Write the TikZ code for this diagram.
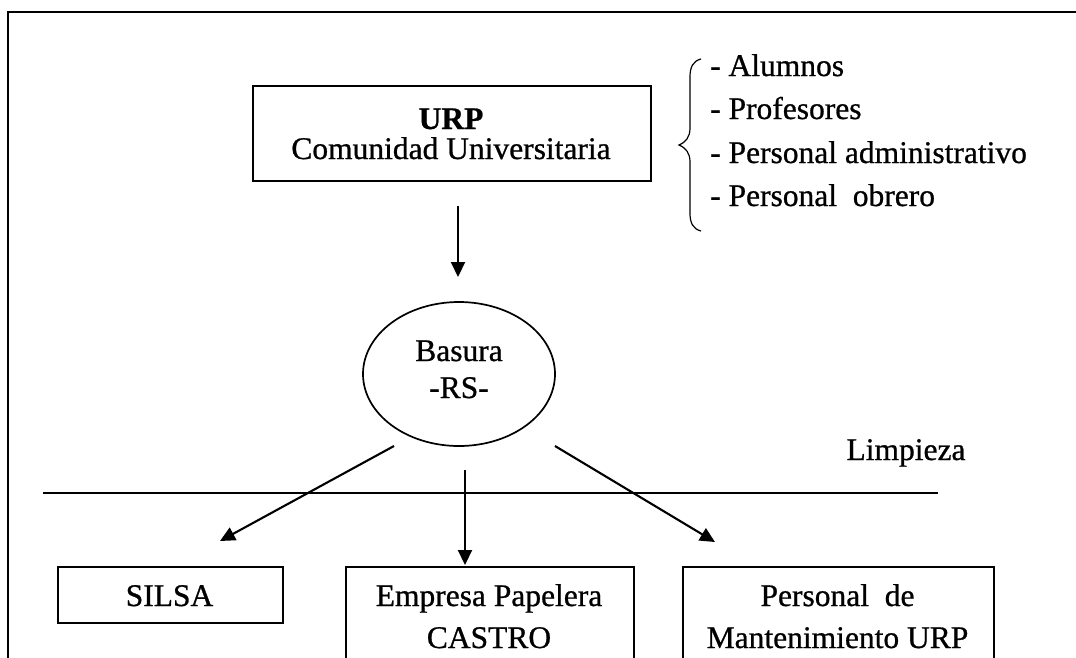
\documentclass[tikz,border=0pt]{standalone}
\usepackage{fontspec}
\setmainfont{Liberation Serif}[FakeBold=0.8]
\usetikzlibrary{arrows.meta,shapes.geometric}
\begin{document}
\begin{tikzpicture}[x=1pt,y=-1pt,
  frameline/.style={line width=2pt},
  boxnode/.style={draw, line width=1.7pt, rectangle, inner sep=0pt, anchor=north west},
  lbl/.style={font=\fontsize{31.5}{38}\selectfont, anchor=base, inner sep=0pt},
  lbll/.style={lbl, anchor=base west},
  arr/.style={line width=2.1pt, -{Triangle[length=15pt,width=14pt]}},
]
\useasboundingbox (0,0) rectangle (1076,657);
\clip (0,0) rectangle (1076,657);

% outer frame (open at bottom and right)
\coordinate (fbl) at (8,680);
\coordinate (ftl) at (8,12);
\coordinate (ftr) at (1090,12);
\draw[frameline] (fbl) -- (ftl) -- (ftr);

% URP box
\node[boxnode, minimum width=398pt, minimum height=95pt] (urp) at (252,85) {};
\node[lbl] (urpt) at (451,129) {\bfseries URP};
\node[lbl] (comt) at (451,159) {Comunidad Universitaria};

% brace and list
\draw[line width=1.2pt] (701,59) .. controls (693,61) and (690,67) .. (690,77) -- (690,128)
  .. controls (690,137) and (686,142) .. (679,145)
  .. controls (686,148) and (690,153) .. (690,162) -- (690,213)
  .. controls (690,223) and (693,229) .. (701,231);
\node[lbll] (l1) at (710,76) {- Alumnos};
\node[lbll] (l2) at (710,119) {- Profesores};
\node[lbll] (l3) at (710,163) {- Personal administrativo};
\node[lbll] (l4) at (710,206) {- Personal\ \ obrero};

% arrow to ellipse
\coordinate (a0s) at (458,206);
\coordinate (a0e) at (458,277);
\draw[arr] (a0s) -- (a0e);

% ellipse
\node[draw, ellipse, line width=1.7pt, minimum width=192pt, minimum height=144pt, inner sep=0pt] (rs) at (459,374) {};
\node[lbl] (rst1) at (459,361) {Basura};
\node[lbl] (rst2) at (459,398) {-RS-};

% Limpieza line and label
\coordinate (hl1) at (43,493);
\coordinate (hl2) at (938,493);
\draw[line width=1.7pt] (hl1) -- (hl2);
\node[lbl] (limp) at (906,460) {Limpieza};

% arrows to bottom boxes
\coordinate (a1s) at (394,446);
\coordinate (a1e) at (220,541);
\coordinate (a2s) at (465,470);
\coordinate (a2e) at (465,565);
\coordinate (a3s) at (555,446);
\coordinate (a3e) at (715,542);
\draw[arr] (a1s) -- (a1e);
\draw[arr] (a2s) -- (a2e);
\draw[arr] (a3s) -- (a3e);

% bottom boxes
\node[boxnode, minimum width=225pt, minimum height=56pt] (silsa) at (57,566) {};
\node[lbl] (silsat) at (169.5,606) {SILSA};

\node[boxnode, minimum width=288pt, minimum height=130pt] (emp) at (345,566) {};
\node[lbl] (empt1) at (489,606) {Empresa Papelera};
\node[lbl] (empt2) at (489,648) {CASTRO};

\node[boxnode, minimum width=311pt, minimum height=130pt] (pers) at (682,566) {};
\node[lbl] (perst1) at (837.5,606) {Personal\ \ de};
\node[lbl] (perst2) at (837.5,648) {Mantenimiento URP};
\end{tikzpicture}
\end{document}
